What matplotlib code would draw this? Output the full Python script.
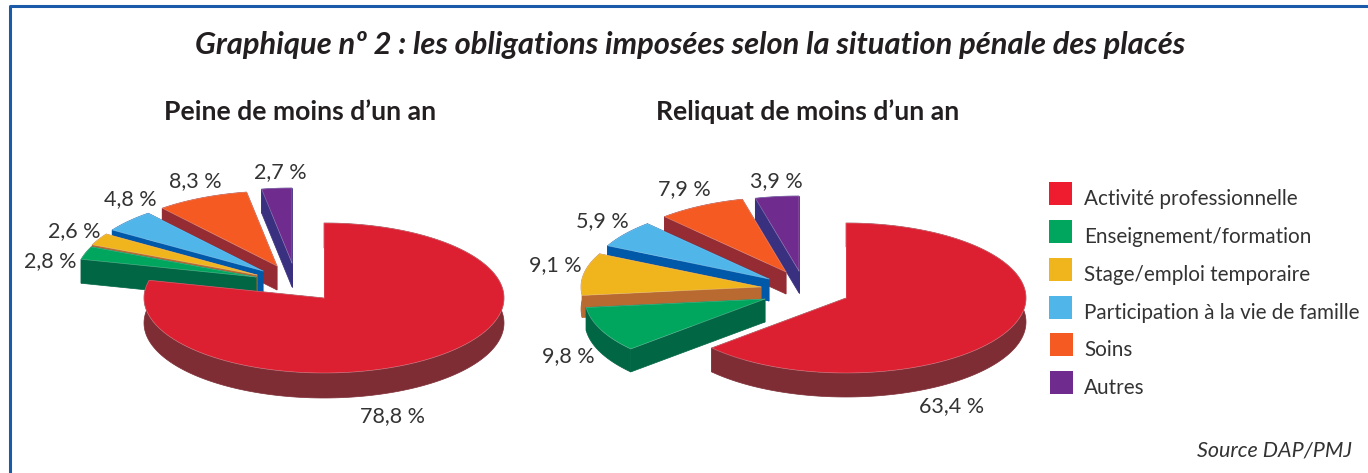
import numpy as np
import matplotlib
matplotlib.use("Agg")
import matplotlib.pyplot as plt
from matplotlib.patches import Rectangle

plt.rcParams["font.family"] = ["Lato", "DejaVu Sans"]

categories = [
    "Activité professionnelle",
    "Enseignement/formation",
    "Stage/emploi temporaire",
    "Participation à la vie de famille",
    "Soins",
    "Autres",
]
peine_values = [78.8, 2.8, 2.6, 4.8, 8.3, 2.7]
reliquat_values = [63.4, 9.8, 9.1, 5.9, 7.9, 3.9]

face_colors = ["#dc2032", "#00a65d", "#f0b41c", "#50b6ea", "#f45a22", "#6f2c8e"]
side_colors = ["#7f2d35", "#006644", "#b86a30", "#0058a8", "#952c34", "#3a3080"]
legend_colors = ["#ee1c2e", "#00a65d", "#f0b41c", "#50b6ea", "#f45a22", "#6f2c8e"]

# layout, in image pixels: where each exploded slice has its apex
RX, RY = 180, 75
peine_apex = [(324, 298), (256, 277), (257, 275), (263, 271), (277, 266), (292, 263)]
reliquat_apex = [(846, 298), (765, 299), (761, 287), (769, 279), (786, 272), (799, 271)]
peine_depth = [25, 24, 24, 24, 24, 24]
reliquat_depth = [24, 23, 22, 22, 22, 22]
peine_label_pos = [(392, 416), (50, 261), (74, 231), (130, 199), (195, 181), (280, 172)]
reliquat_label_pos = [(952, 406), (568, 356), (555, 265), (602, 221), (684, 189), (776, 181)]


def slice_outline(apex, start, stop):
    # angles run clockwise from the top of the pie
    n = max(int(abs(stop - start) / 1.5), 2)
    t = np.radians(np.linspace(start, stop, n))
    xs = apex[0] + RX * np.sin(t)
    ys = apex[1] - RY * np.cos(t)
    return xs, ys


def draw_pie(ax, values, apexes, depths, label_pos):
    values = np.asarray(values, dtype=float)
    edges = np.r_[0, np.cumsum(values)] / values.sum() * 360

    # back slices first, the red one goes on top
    for i in range(len(values) - 1, -1, -1):
        ax_, ay_ = apexes[i]
        xs, ys = slice_outline(apexes[i], edges[i], edges[i + 1])
        d = depths[i]
        z = 2 + (5 - i) * 3
        side = dict(color=side_colors[i], lw=0.5, zorder=z)

        # outer rim and the two straight walls, each one polygon
        ax.fill(np.r_[xs, xs[::-1]], np.r_[ys, ys[::-1] + d], **side)
        for k in (0, -1):
            ax.fill([ax_, xs[k], xs[k], ax_],
                    [ay_, ys[k], ys[k] + d, ay_ + d], **side)

        top_x, top_y = np.r_[ax_, xs, ax_], np.r_[ay_, ys, ay_]
        ax.fill(top_x, top_y, facecolor=face_colors[i], edgecolor="none", zorder=z + 1)
        ax.plot(top_x, top_y, color="white", alpha=0.3, lw=0.5, zorder=z + 2)

    for val, (x, y) in zip(values, label_pos):
        txt = f"{val:.1f}".replace(".", ",") + " %"
        ax.text(x, y, txt, ha="center", va="center", fontsize=15.5,
                color="#333333", zorder=30)


fig = plt.figure(figsize=(13.68, 4.73), dpi=100)
ax = fig.add_axes([0, 0, 1, 1])
ax.set_xlim(0, 1368)
ax.set_ylim(473, 0)
ax.axis("off")

# blue frame, open on the right and at the bottom
ax.plot([10, 10, 1368], [473, 6, 6], color="#1a5aa8", lw=2.2)

ax.text(690, 45, "Graphique nº 2 : les obligations imposées selon la situation pénale des placés",
        ha="center", va="center", fontsize=22.2, fontweight="bold", style="italic",
        color="#231f20")
ax.text(300, 112, "Peine de moins d’un an", ha="center", va="center",
        fontsize=19.1, fontweight="bold", color="#231f20")
ax.text(808, 112, "Reliquat de moins d’un an", ha="center", va="center",
        fontsize=19.1, fontweight="bold", color="#231f20")

draw_pie(ax, peine_values, peine_apex, peine_depth, peine_label_pos)
draw_pie(ax, reliquat_values, reliquat_apex, reliquat_depth, reliquat_label_pos)

legend_x = [1049, 1049, 1049, 1049, 1050, 1050]
legend_y = [182, 220, 258, 296, 333, 371]
for name, col, x, y in zip(categories, legend_colors, legend_x, legend_y):
    ax.add_patch(Rectangle((x, y), 23, 23, facecolor=col, edgecolor="none"))
    ax.text(1084, y + 16.5, name, ha="left", va="center", fontsize=14.9, color="#333333")

ax.text(1352, 450, "Source DAP/PMJ", ha="right", va="center", fontsize=15.5,
        style="italic", color="#333333")

fig.savefig("out.png", dpi=100)
